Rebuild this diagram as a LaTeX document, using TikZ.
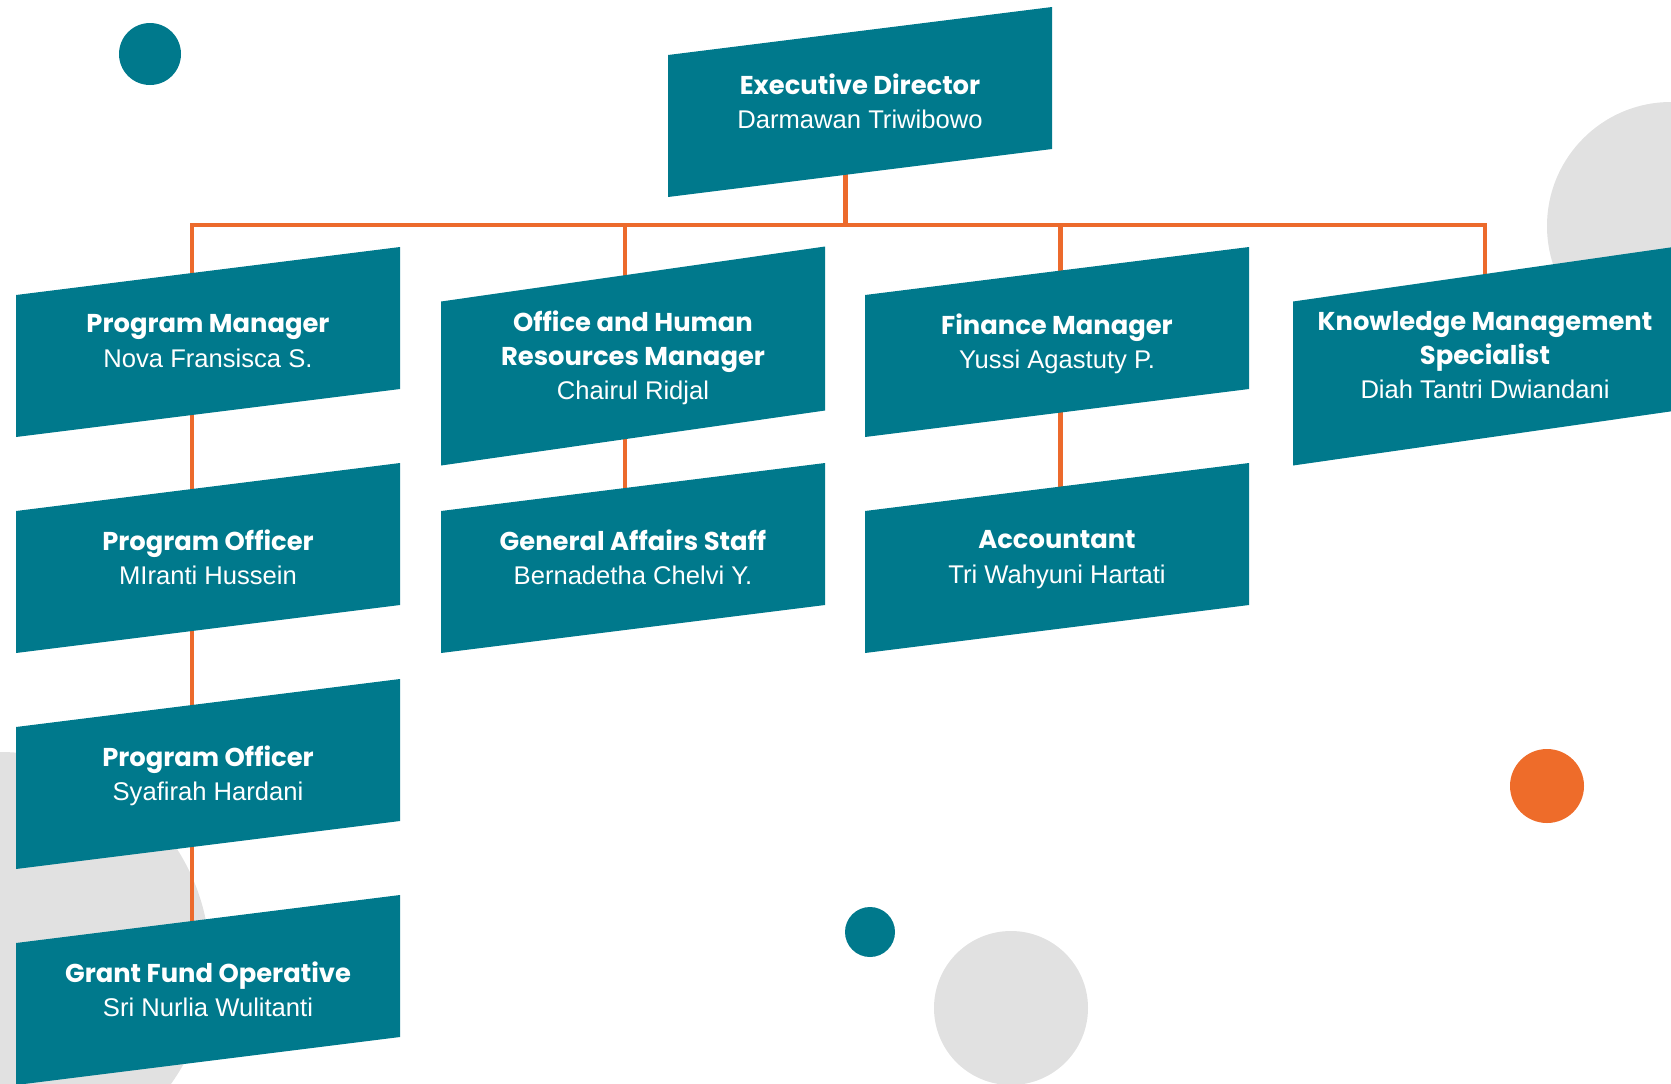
\documentclass[tikz,border=0pt]{standalone}
\usepackage{fontspec}
\newfontfamily\rolefont{Poppins}
\newfontfamily\personfont{Liberation Sans}

\definecolor{boxteal}{RGB}{0,121,140}
\definecolor{lineorange}{RGB}{236,106,44}
\definecolor{dotorange}{RGB}{238,108,42}
\definecolor{bggray}{RGB}{225,225,225}

\pgfdeclarelayer{back}
\pgfdeclarelayer{links}
\pgfsetlayers{back,links,main}

\tikzstyle{link} = [draw=lineorange,line width=2.25pt]
\tikzstyle{boxtext} = [text=white,align=center,inner sep=0pt,text depth=0pt,font=\fontsize{12.9}{17.1}\selectfont]

\newcommand{\role}[1]{{\rolefont\bfseries #1}}
\newcommand{\person}[1]{{\personfont\fontsize{12.8}{17.1}\selectfont #1}}

% slanted box: name, centre x, centre y, height, rise, text
\newcommand{\orgbox}[6]{%
  \fill[boxteal] (#2-192,#3+#5/2-#4/2) -- (#2+192,#3-#5/2-#4/2)
    -- (#2+192,#3-#5/2+#4/2) -- (#2-192,#3+#5/2+#4/2) -- cycle;
  \node[boxtext] (#1) at (#2,#3-1) {#6};}

\begin{document}
\begin{tikzpicture}[x=0.5pt,y=-0.5pt]

\useasboundingbox (0,0) rectangle (1671,1083);

% Background circles
\begin{pgfonlayer}{back}
\fill[bggray] (1671,226) circle (124);
\fill[bggray] (0,962) circle (210);
\fill[bggray] (1011,1008) circle (77);
\end{pgfonlayer}
\fill[boxteal] (150,54) circle (31);
\fill[boxteal] (870,932) circle (25);
\fill[dotorange] (1547,786) circle (37);

% Director
\orgbox{ed}{860}{102}{142}{48}{\role{Executive Director}\\\person{Darmawan Triwibowo}}

% Managers
\orgbox{pm}{208}{342}{142}{48}{\role{Program Manager}\\\person{Nova Fransisca S.}}
\orgbox{ohr}{633}{356}{164}{55}{\role{Office and Human}\\\role{Resources Manager}\\\person{Chairul Ridjal}}
\orgbox{fm}{1057}{342}{142}{48}{\role{Finance Manager}\\\person{Yussi Agastuty P.}}
\orgbox{km}{1485}{356}{164}{55}{\role{Knowledge Management}\\\role{Specialist}\\\person{Diah Tantri Dwiandani}}

% Staff
\orgbox{po1}{208}{558}{142}{48}{\role{Program Officer}\\\person{MIranti Hussein}}
\orgbox{po2}{208}{774}{142}{48}{\role{Program Officer}\\\person{Syafirah Hardani}}
\orgbox{gfo}{208}{990}{142}{48}{\role{Grant Fund Operative}\\\person{Sri Nurlia Wulitanti}}
\orgbox{gas}{633}{558}{142}{48}{\role{General Affairs Staff}\\\person{Bernadetha Chelvi Y.}}
\orgbox{acc}{1057}{558}{142}{48}{\role{Accountant}\\\person{Tri Wahyuni Hartati}}

% Connectors
\begin{pgfonlayer}{links}
\coordinate (bus) at (0,225);
\draw[link] ([xshift=-7.25pt]ed.center) -- ([xshift=-7.25pt]ed.center |- bus);
\draw[link] ([xshift=-8pt]gfo.center) |- (bus -| km.center) -- (km.center);
\draw[link] ([xshift=-4pt]ohr.center |- bus) -- ([xshift=-4pt]gas.center);
\draw[link] ([xshift=1.75pt]fm.center |- bus) -- ([xshift=1.75pt]acc.center);
\end{pgfonlayer}

\end{tikzpicture}
\end{document}
